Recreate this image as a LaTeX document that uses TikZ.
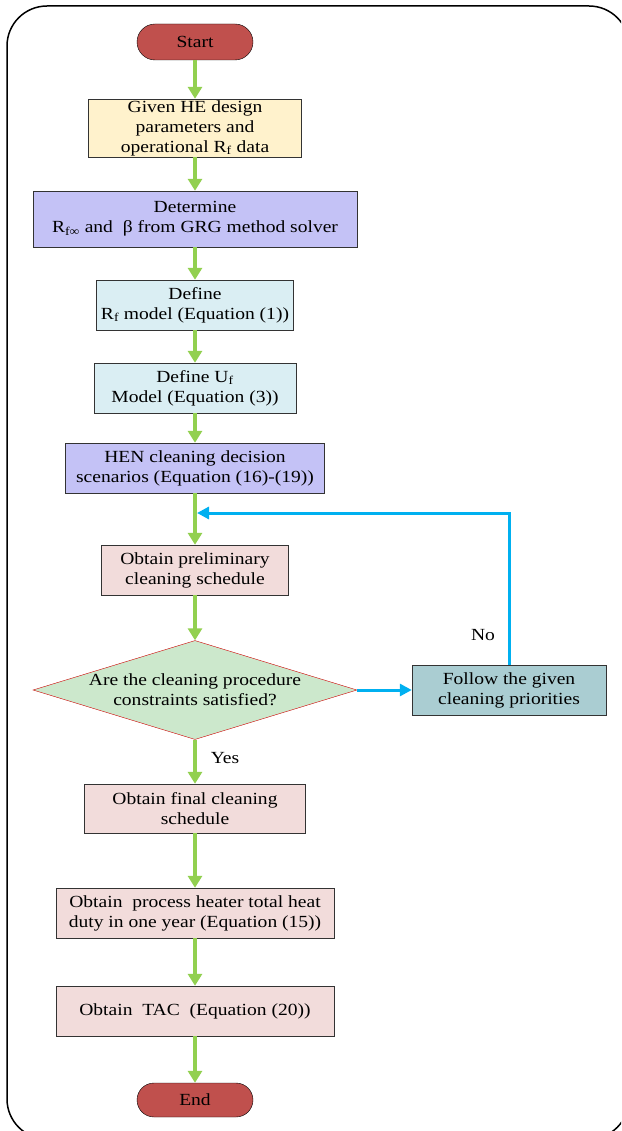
\documentclass[tikz,border=0pt]{standalone}
\usepackage{fontspec}
\setmainfont[FakeStretch=1.15]{Liberation Serif}
\usetikzlibrary{arrows.meta,shapes.geometric,shapes.misc}

\definecolor{termred}{RGB}{192,80,77}
\definecolor{flowgreen}{RGB}{146,208,80}
\definecolor{loopblue}{RGB}{0,176,240}
\definecolor{inputyellow}{RGB}{255,242,204}
\definecolor{solvelilac}{RGB}{196,194,246}
\definecolor{modelcyan}{RGB}{218,238,243}
\definecolor{steppink}{RGB}{242,220,219}
\definecolor{checkgreen}{RGB}{204,232,204}
\definecolor{prioteal}{RGB}{170,205,210}

\tikzset{
  term/.style={rounded rectangle, draw=black, fill=termred, minimum width=116pt, minimum height=36pt, inner sep=0pt},
  box/.style={rectangle, draw=black!80, fill=#1, align=center, inner sep=0pt, minimum height=50pt},
  decide/.style={diamond, draw=red!80!black, fill=checkgreen, align=center, aspect=3.27, inner sep=0pt, minimum width=324pt, minimum height=99pt},
  go/.style={draw=flowgreen, line width=4pt, -{Triangle[width=14pt,length=12pt]}},
  loopline/.style={draw=loopblue, line width=3pt, -{Triangle[width=12pt,length=12pt]}}
}

\begin{document}
\begin{tikzpicture}[x=1pt, y=-1pt, font=\fontsize{17}{20}\selectfont]
    \useasboundingbox (0,0) rectangle (621,1131);
    \clip (0,0) rectangle (621,1131);
    \draw[line width=1.5pt, rounded corners=40pt] (7,6) rectangle (629,1139);

      \node[term] at(195, 42)(start){Start};
      \node[box=inputyellow, minimum width=213pt, minimum height=58pt] at(195, 128)(given){Given HE design\\parameters and\\operational R\textsubscript{f} data};
      \node[box=solvelilac, minimum width=324pt, minimum height=56pt] at(195, 219)(solver){Determine\\R\textsubscript{f∞} and\ \ β from GRG method solver};
      \node[box=modelcyan, minimum width=197pt] at(195, 305)(rfmodel){Define\\R\textsubscript{f} model (Equation (1))};
      \node[box=modelcyan, minimum width=202pt] at(195, 388)(ufmodel){Define U\textsubscript{f}\\Model (Equation (3))};
      \node[box=solvelilac, minimum width=259pt] at(195, 468)(hen){HEN cleaning decision\\scenarios (Equation (16)-(19))};
      \node[box=steppink, minimum width=187pt] at(195, 570)(prelim){Obtain preliminary\\cleaning schedule};
      \node[decide] at(195, 690)(check){Are the cleaning procedure\\constraints satisfied?};
      \node[box=prioteal, minimum width=194pt] at(509, 690)(follow){Follow the given\\cleaning priorities};
      \node[box=steppink, minimum width=221pt, minimum height=49pt] at(195, 808.5)(final){Obtain final cleaning\\schedule};
      \node[box=steppink, minimum width=278pt] at(195, 913)(heat){Obtain\ \ process heater total heat\\duty in one year (Equation (15))};
      \node[box=steppink, minimum width=278pt] at(195, 1011)(tac){Obtain\ \ TAC\ \ (Equation (20))};
      \node[term, minimum height=34pt] at(195, 1100)(end){End};

      \node at(483, 635)(no){No};
      \node at(225, 758)(yes){Yes};
      \coordinate (merge) at(197, 513);

        \draw[go](start.south) to (given.north);
        \draw[go](given.south) to (solver.north);
        \draw[go](solver.south) to (rfmodel.north);
        \draw[go](rfmodel.south) to (ufmodel.north);
        \draw[go](ufmodel.south) to (hen.north);
        \draw[go](hen.south) to (prelim.north);
        \draw[go](prelim.south) to (check.north);
        \draw[go](check.south) to (final.north);
        \draw[go](final.south) to (heat.north);
        \draw[go](heat.south) to (tac.north);
        \draw[go](tac.south) to (end.north);

        \draw[loopline](check.east) to (follow.west);
        \draw[loopline](follow.north) |- (merge);

\end{tikzpicture}
\end{document}
